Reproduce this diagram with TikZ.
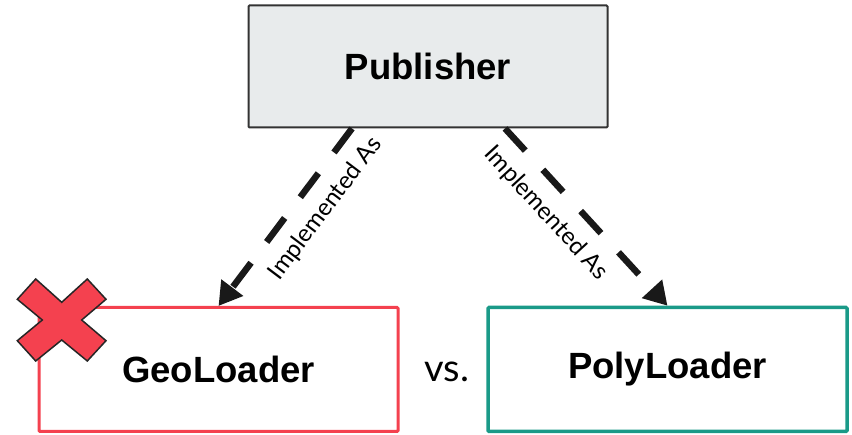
\documentclass[tikz,border=0pt]{standalone}
\usepackage{fontspec}
\setmainfont{Liberation Sans}
\newfontfamily\latofont{Lato}
\usetikzlibrary{arrows.meta}
\definecolor{pubfill}{HTML}{E8EBEC}
\definecolor{pubdraw}{HTML}{333333}
\definecolor{geored}{HTML}{F4414F}
\definecolor{polyteal}{HTML}{1A9A88}
\definecolor{crossline}{HTML}{262626}
\tikzset{
  box/.style={rectangle, minimum width=359pt, minimum height=124pt, inner sep=0pt,
    font=\fontsize{36.5pt}{40pt}\selectfont\bfseries, rounded corners=1pt},
  impl/.style={line width=6.5pt, dash pattern=on 30pt off 26pt, draw=black!90,
    -{Triangle[length=23pt,width=26pt]}},
  lbl/.style={font=\latofont\fontsize{24pt}{26pt}\selectfont, inner sep=0pt, sloped, below=13pt}
}
\begin{document}
\begin{tikzpicture}[x=1pt,y=1pt]
\useasboundingbox (0,0) rectangle (852,435);
\node[box, fill=pubfill, draw=pubdraw, line width=2pt, minimum width=359pt, minimum height=122pt] (pub) at (428,368.5) {Publisher};
\node[box, draw=geored, line width=3pt] (geo) at (218.5,65.5) {GeoLoader};
\node[box, draw=polyteal, line width=3.5pt] (poly) at (667.5,65.5) {PolyLoader};
\node[font=\latofont\fontsize{38pt}{40pt}\selectfont, inner sep=0pt] (vs) at (447,63) {vs.};
\draw[impl] ([xshift=-76pt]pub.south) -- (geo.north) node[lbl, pos=0.36] (l1) {Implemented As};
\draw[impl] ([xshift=77pt]pub.south) -- (poly.north) node[lbl, pos=0.376] (l2) {Implemented As};
\draw[fill=geored, draw=crossline, line width=1.5pt, line join=miter]
  (61.7,132.7) -- (87.3,156) -- (106,135.7) -- (81.7,115) -- (106,94.3) -- (87.3,74)
  -- (61.7,95) -- (35.7,74) -- (17.3,94.3) -- (42.3,115) -- (17.3,135.7) -- (35.7,156) -- cycle;
\end{tikzpicture}
\end{document}
